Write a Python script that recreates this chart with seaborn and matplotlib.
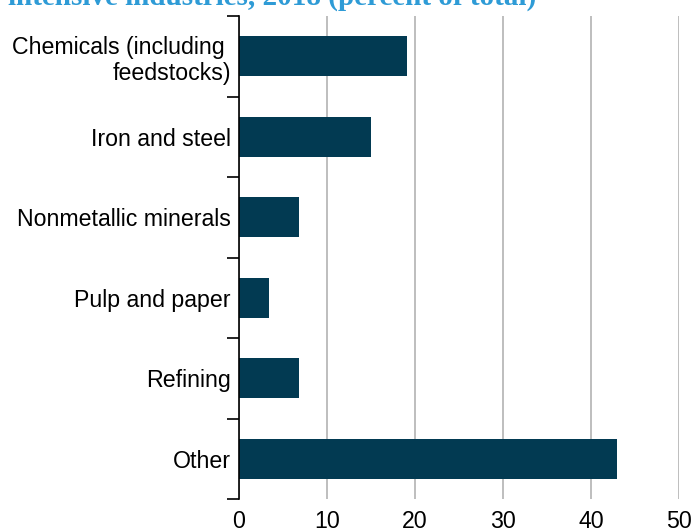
import matplotlib
matplotlib.use("Agg")
import matplotlib.pyplot as plt
import seaborn as sns
import pandas as pd
import numpy as np

categories = ["Chemicals (including \nfeedstocks)", "Iron and steel", "Nonmetallic minerals",
              "Pulp and paper", "Refining", "Other"]
values = [19.1, 15.0, 6.8, 3.4, 6.8, 43.0]
xticks = [0, 10, 20, 30, 40, 50]
title = "intensive industries, 2018 (percent of total)"

df = pd.DataFrame({"category": categories, "value": values})

sns.set_theme(style="white")
plt.rcParams['font.family'] = ['Liberation Sans', 'DejaVu Sans']

fig = plt.figure(figsize=(6.91, 5.31), dpi=100)
ax = fig.add_axes([239/691, 1-499/531, (679-239)/691, (499-16)/531])

sns.barplot(data=df, x="value", y="category", orient="h", color="#023A52",
            width=0.5, saturation=1, linewidth=0, ax=ax)

ax.set_xlim(0, 50)
ax.set_ylim(5.5, -0.5)
ax.set_xticks(xticks)
ax.set_xticklabels([str(t) for t in xticks], fontsize=16.7, color="black")
ax.tick_params(axis="x", length=0, pad=8)
ax.set_yticks(range(len(categories)))
ax.set_yticklabels(categories, fontsize=16.7, color="black")
ax.tick_params(axis="y", which="major", length=0, pad=6)
ax.set_yticks(np.arange(-0.5, 6.0, 1.0), minor=True)
ax.tick_params(axis="y", which="minor", length=9, width=1.2, color="black", left=True)
ax.set_xlabel("")
ax.set_ylabel("")
ax.xaxis.grid(True, color="#b3b3b3", linewidth=1.2)
ax.yaxis.grid(False)
ax.set_axisbelow(True)
for s in ["top", "right", "bottom"]:
    ax.spines[s].set_visible(False)
ax.spines["left"].set_color("black")
ax.spines["left"].set_linewidth(1.2)

fig.text(0.012, 1 - 5/531, title, fontsize=21, fontweight="bold", color="#2E9BD6",
         family=["Liberation Serif", "DejaVu Serif"], va="baseline", ha="left")

fig.savefig("out.png", dpi=100)
